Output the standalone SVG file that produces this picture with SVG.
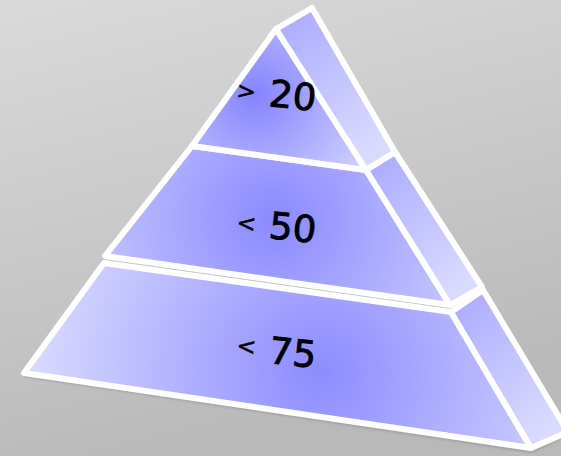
<svg xmlns="http://www.w3.org/2000/svg" width="561" height="456" viewBox="0 0 561 456">
  <defs>
    <linearGradient id="bg" x1="0" y1="0" x2="0.3" y2="1">
      <stop offset="0" stop-color="#dadada"/>
      <stop offset="1" stop-color="#b9b9b9"/>
    </linearGradient>
    <radialGradient id="gTop" gradientUnits="userSpaceOnUse" cx="255" cy="95" r="135">
      <stop offset="0" stop-color="#8484ff"/>
      <stop offset="1" stop-color="#d4d4ff"/>
    </radialGradient>
    <radialGradient id="gMid" gradientUnits="userSpaceOnUse" cx="275" cy="220" r="230">
      <stop offset="0" stop-color="#8a8aff"/>
      <stop offset="1" stop-color="#d0d0ff"/>
    </radialGradient>
    <radialGradient id="gBot" gradientUnits="userSpaceOnUse" cx="320" cy="372" r="300">
      <stop offset="0" stop-color="#8c8cff"/>
      <stop offset="1" stop-color="#dcdcff"/>
    </radialGradient>
    <linearGradient id="gSide" x1="0" y1="0" x2="0.6" y2="1">
      <stop offset="0" stop-color="#a8a8ff"/>
      <stop offset="1" stop-color="#dadaff"/>
    </linearGradient>
    <filter id="sh" x="-10%" y="-10%" width="120%" height="120%">
      <feGaussianBlur stdDeviation="1.5"/>
    </filter>
  </defs>
  <style>
    .face { stroke: #ffffff; stroke-width: 6; stroke-linejoin: round; }
    .num { font-family: "DejaVu Sans", "Liberation Sans", sans-serif; font-size: 37px; fill: #000000; stroke: #000000; stroke-width: 0.9; }
    .sym { font-family: "DejaVu Sans", "Liberation Sans", sans-serif; font-size: 23px; fill: #000000; stroke: #000000; stroke-width: 0.6; }
  </style>
  <rect x="0" y="0" width="561" height="456" fill="url(#bg)"/>
  <polygon points="24,375 531,451 568,434" fill="none" stroke="#707070" stroke-width="3" opacity="0.45" filter="url(#sh)"/>

  <g id="tier-bottom">
    <polygon class="face" points="104,263 451,312 531,448 24,373" fill="url(#gBot)"/>
    <polygon class="face" points="451,312 483,290 568,432 531,448" fill="url(#gSide)"/>
    <text class="sym" x="236" y="353" transform="rotate(6 236 353)">&lt;</text>
    <text class="num" x="268" y="363" transform="rotate(6 268 363)">75</text>
  </g>

  <g id="tier-middle">
    <polygon class="face" points="192,146 366,170 450,305 105,256" fill="url(#gMid)"/>
    <polygon class="face" points="366,170 395,152 482,287 450,305" fill="url(#gSide)"/>
    <text class="sym" x="236" y="230" transform="rotate(6 236 230)">&lt;</text>
    <text class="num" x="268" y="238" transform="rotate(6 268 238)">50</text>
  </g>

  <g id="tier-top">
    <polygon class="face" points="276,29 366,170 192,146" fill="url(#gTop)"/>
    <polygon class="face" points="276,29 312,8 395,152 366,170" fill="url(#gSide)"/>
    <text class="sym" x="236" y="98" transform="rotate(6 236 98)">&gt;</text>
    <text class="num" x="268" y="106" transform="rotate(6 268 106)">20</text>
  </g>
</svg>
